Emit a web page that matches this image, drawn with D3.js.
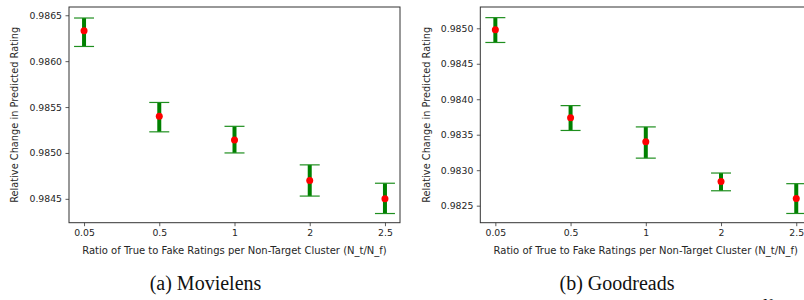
<!DOCTYPE html>
<html>
<head>
<meta charset="utf-8">
<script src="https://cdn.jsdelivr.net/npm/d3@7"></script>
<style>
  body { margin: 0; background: #fff; }
  svg { display: block; }
</style>
</head>
<body>
<svg id="chart" width="804" height="300"></svg>
<script>
// x categories (ratio N_t/N_f)
const ratios = ['0.05', '0.5', '1', '2', '2.5'];

// Movielens: mean, lower and upper error
const movieMean = [0.98633, 0.98540, 0.98514, 0.98470, 0.98450];
const movieLow  = [0.98616, 0.98523, 0.98500, 0.98453, 0.98434];
const movieHigh = [0.98647, 0.98555, 0.98529, 0.98487, 0.98467];
const movieTicks = [0.9845, 0.9850, 0.9855, 0.9860, 0.9865];

// Goodreads
const goodMean = [0.98498, 0.98374, 0.98340, 0.98284, 0.98260];
const goodLow  = [0.98480, 0.98356, 0.98317, 0.98271, 0.98239];
const goodHigh = [0.98515, 0.98391, 0.98361, 0.98296, 0.98281];
const goodTicks = [0.9825, 0.9830, 0.9835, 0.9840, 0.9845, 0.9850];

const yLabel = 'Relative Change in Predicted Rating';
const xLabel = 'Ratio of True to Fake Ratings per Non-Target Cluster (N_t/N_f)';

const svg = d3.select('#chart');

function drawPanel(opts) {
  const { left, right, top, bottom, yDomain, ticks, mean, low, high, caption, captionX } = opts;

  const x = d3.scaleLinear().domain([-0.2, 4.2]).range([left, right]);
  const y = d3.scaleLinear().domain(yDomain).range([bottom, top]);

  const g = svg.append('g');

  // axes
  const xAxis = g.append('g')
    .attr('transform', `translate(0,${bottom})`)
    .call(d3.axisBottom(x).tickValues(d3.range(ratios.length))
      .tickFormat(i => ratios[i]).tickSizeInner(3.5).tickSizeOuter(0).tickPadding(3.5));
  const yAxis = g.append('g')
    .attr('transform', `translate(${left},0)`)
    .call(d3.axisLeft(y).tickValues(ticks).tickFormat(d3.format('.4f'))
      .tickSizeInner(3.5).tickSizeOuter(0).tickPadding(3.5));

  [xAxis, yAxis].forEach(a => {
    a.select('.domain').remove();
    a.selectAll('line').attr('stroke', '#333').attr('stroke-width', 0.8);
    a.selectAll('text').attr('fill', '#262626')
      .style('font-family', 'DejaVu Sans').style('font-size', '9.3px');
  });

  // frame
  g.append('rect')
    .attr('x', left).attr('y', top)
    .attr('width', right - left).attr('height', bottom - top)
    .attr('fill', 'none').attr('stroke', '#333').attr('stroke-width', 1);

  const idx = d3.range(ratios.length);

  // error bars
  g.selectAll('.bar').data(idx).join('line')
    .attr('x1', i => x(i)).attr('x2', i => x(i))
    .attr('y1', i => y(low[i])).attr('y2', i => y(high[i]))
    .attr('stroke', '#008000').attr('stroke-width', 4);

  [low, high].forEach(arr => {
    g.selectAll(null).data(idx).join('line')
      .attr('x1', i => x(i) - 10).attr('x2', i => x(i) + 10)
      .attr('y1', i => y(arr[i])).attr('y2', i => y(arr[i]))
      .attr('stroke', '#1f8f1f').attr('stroke-width', 1.2);
  });

  g.selectAll('.dot').data(idx).join('circle')
    .attr('cx', i => x(i)).attr('cy', i => y(mean[i]))
    .attr('r', 3.5).attr('fill', '#ff0000');

  // labels
  g.append('text')
    .attr('transform', `translate(${left - 54},${(top + bottom) / 2}) rotate(-90)`)
    .attr('text-anchor', 'middle').attr('dy', '0.35em')
    .attr('fill', '#262626')
    .style('font-family', 'DejaVu Sans').style('font-size', '9.8px')
    .text(yLabel);

  g.append('text')
    .attr('x', (left + right) / 2).attr('y', bottom + 31)
    .attr('text-anchor', 'middle')
    .attr('fill', '#262626')
    .style('font-family', 'DejaVu Sans').style('font-size', '10px')
    .text(xLabel);

  g.append('text')
    .attr('x', captionX).attr('y', 290)
    .attr('text-anchor', 'middle')
    .attr('fill', '#111')
    .style('font-family', 'Liberation Serif').style('font-size', '20px')
    .text(caption);
}

drawPanel({
  left: 69, right: 400, top: 7, bottom: 222.7,
  yDomain: [0.98424, 0.98659], ticks: movieTicks,
  mean: movieMean, low: movieLow, high: movieHigh,
  caption: '(a) Movielens', captionX: 205.5
});

drawPanel({
  left: 480.3, right: 811.3, top: 7, bottom: 222.7,
  yDomain: [0.98226, 0.98530], ticks: goodTicks,
  mean: goodMean, low: goodLow, high: goodHigh,
  caption: '(b) Goodreads', captionX: 617
});

// glyph cut off at the page edge, as in the source
svg.append('text')
  .attr('x', 768).attr('y', 309)
  .attr('text-anchor', 'middle')
  .attr('fill', '#111')
  .style('font-family', 'Liberation Serif').style('font-size', '14px')
  .text('N');
</script>
</body>
</html>
